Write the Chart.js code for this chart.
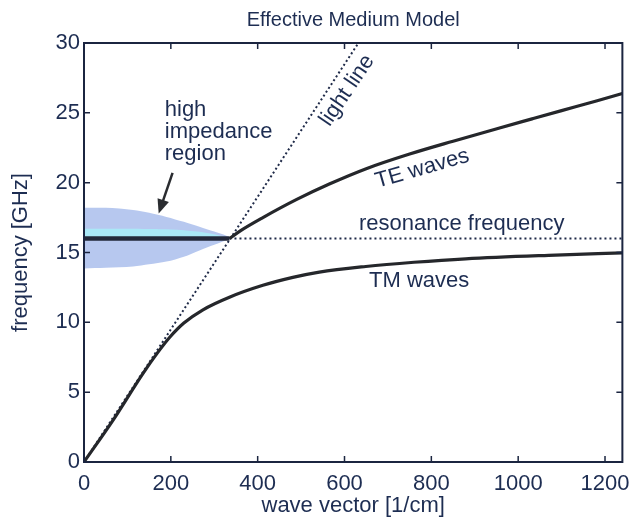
<!DOCTYPE html>
<html>
<head>
<meta charset="utf-8">
<script src="https://cdn.jsdelivr.net/npm/chart.js@4.4.1/dist/chart.umd.min.js"></script>
<style>
  html, body { margin: 0; padding: 0; background: #fff; }
  #wrap { width: 639px; height: 520px; }
</style>
</head>
<body>
<div id="wrap"><canvas id="chart" width="639" height="520"></canvas></div>
<script>
"use strict";
// axis ranges / ticks
const xTickValues = [0, 200, 400, 600, 800, 1000, 1200];
const yTickValues = [0, 5, 10, 15, 20, 25, 30];
const X_MAX = 1240;

// TM waves (lower branch)
const tmK = [0, 67, 136, 170, 198, 230, 274, 335, 412, 481, 542, 649, 760, 879, 1070, 1240];
const tmF = [0, 3.0, 6.35, 7.85, 8.95, 9.95, 10.9, 11.8, 12.65, 13.22, 13.6, 14.0, 14.3, 14.55, 14.8, 14.97];

// TE waves (upper branch)
const teK = [335, 360, 412, 490, 565, 650, 750, 850, 955, 1032, 1100, 1180, 1240];
const teF = [16.0, 16.55, 17.5, 18.8, 19.9, 21.0, 22.05, 22.97, 23.9, 24.57, 25.16, 25.85, 26.38];

// light line
const lightK = [0, 632];
const lightF = [0, 30];

// resonance frequency: solid part and dotted part
const resSolidK = [0, 335];
const resSolidF = [16, 16];
const resDotK = [335, 1240];
const resDotF = [16, 16];

// high impedance band
const bandK  = [0, 50, 113, 150, 190, 230, 266, 300, 328, 337];
const bandHi = [18.2, 18.2, 18.05, 17.85, 17.55, 17.2, 16.85, 16.5, 16.2, 16.0];
const bandLo = [13.85, 13.9, 14.0, 14.15, 14.35, 14.7, 15.15, 15.55, 15.9, 16.0];
const cyanK  = [0, 100, 200, 260, 300, 330];
const cyanF  = [16.7, 16.7, 16.65, 16.5, 16.3, 16.05];

const TEXT = "#1d2d52";
const AXIS = "#1b2540";
const CURVE = "#25272b";
const FONT = '"Liberation Sans", Arial, sans-serif';

const pts = (ks, fs) => ks.map((k, i) => ({ x: k, y: fs[i] }));

const frame = {
  id: "frame",
  afterDatasetsDraw(chart) {
    const { ctx, chartArea: a, scales: { x, y } } = chart;
    ctx.save();
    ctx.strokeStyle = AXIS;
    ctx.lineWidth = 2;
    ctx.strokeRect(a.left, a.top, a.right - a.left, a.bottom - a.top);
    ctx.lineWidth = 1.5;
    ctx.beginPath();
    x.ticks.forEach(t => {
      const px = x.getPixelForValue(t.value);
      ctx.moveTo(px, a.bottom); ctx.lineTo(px, a.bottom - 6);
      ctx.moveTo(px, a.top);    ctx.lineTo(px, a.top + 6);
    });
    y.ticks.forEach(t => {
      const py = y.getPixelForValue(t.value);
      ctx.moveTo(a.left, py);  ctx.lineTo(a.left + 6, py);
      ctx.moveTo(a.right, py); ctx.lineTo(a.right - 6, py);
    });
    ctx.stroke();
    ctx.restore();
  },
  afterDraw(chart) {
    const { ctx, chartArea: a, scales: { x, y } } = chart;
    const X = v => x.getPixelForValue(v), Y = v => y.getPixelForValue(v);
    ctx.save();
    ctx.fillStyle = TEXT;
    // title
    ctx.font = "20px " + FONT;
    ctx.textAlign = "center";
    ctx.textBaseline = "alphabetic";
    ctx.fillText("Effective Medium Model", (a.left + a.right) / 2, 26);

    ctx.font = "22px " + FONT;
    // high impedance region
    ctx.textAlign = "left";
    ctx.fillText("high", X(186), Y(24.77));
    ctx.fillText("impedance", X(186), Y(23.2));
    ctx.fillText("region", X(186), Y(21.6));

    // arrow
    const x1 = X(204), y1 = Y(20.7), x2 = X(172), y2 = Y(17.8);
    const ang = Math.atan2(y2 - y1, x2 - x1);
    ctx.strokeStyle = "#2a2c30";
    ctx.fillStyle = "#2a2c30";
    ctx.lineWidth = 2.5;
    ctx.beginPath();
    ctx.moveTo(x1, y1);
    ctx.lineTo(x2 - 8 * Math.cos(ang), y2 - 8 * Math.sin(ang));
    ctx.stroke();
    ctx.beginPath();
    ctx.moveTo(x2, y2);
    ctx.lineTo(x2 - 14 * Math.cos(ang) + 6 * Math.sin(ang), y2 - 14 * Math.sin(ang) - 6 * Math.cos(ang));
    ctx.lineTo(x2 - 14 * Math.cos(ang) - 6 * Math.sin(ang), y2 - 14 * Math.sin(ang) + 6 * Math.cos(ang));
    ctx.closePath();
    ctx.fill();

    ctx.fillStyle = TEXT;
    ctx.textAlign = "center";
    ctx.textBaseline = "middle";
    // light line
    ctx.save();
    ctx.translate(X(606), Y(26.6));
    ctx.rotate(-56 * Math.PI / 180);
    ctx.fillText("light line", 0, 0);
    ctx.restore();
    // TE waves
    ctx.save();
    ctx.translate(X(779), Y(21.0));
    ctx.rotate(-16 * Math.PI / 180);
    ctx.fillText("TE waves", 0, 0);
    ctx.restore();

    ctx.textBaseline = "alphabetic";
    ctx.fillText("resonance frequency", X(870), Y(16.6));
    ctx.fillText("TM waves", X(772), Y(12.5));
    ctx.restore();
  }
};

new Chart(document.getElementById("chart"), {
  type: "scatter",
  data: {
    datasets: [
      { data: pts(tmK, tmF), showLine: true, borderColor: CURVE, borderWidth: 3.2, pointRadius: 0, cubicInterpolationMode: "monotone" },
      { data: pts(teK, teF), showLine: true, borderColor: CURVE, borderWidth: 3.2, pointRadius: 0, cubicInterpolationMode: "monotone" },
      { data: pts(resSolidK, resSolidF), showLine: true, borderColor: "#23283a", borderWidth: 4.5, pointRadius: 0 },
      { data: pts(resDotK, resDotF), showLine: true, borderColor: "#1f2a48", borderWidth: 2, borderDash: [2, 3], pointRadius: 0 },
      { data: pts(lightK, lightF), showLine: true, borderColor: "#1f2a48", borderWidth: 2, borderDash: [2, 2.6], pointRadius: 0 },
      { data: pts(cyanK, cyanF), showLine: true, borderWidth: 0, borderColor: "rgba(0,0,0,0)", pointRadius: 0,
        fill: { value: 16 }, backgroundColor: "rgba(170,236,248,0.9)", tension: 0.3 },
      { data: pts(bandK, bandHi), showLine: true, borderWidth: 0, borderColor: "rgba(0,0,0,0)", pointRadius: 0,
        fill: "+1", backgroundColor: "rgba(170,190,236,0.85)", tension: 0.3 },
      { data: pts(bandK, bandLo), showLine: true, borderWidth: 0, borderColor: "rgba(0,0,0,0)", pointRadius: 0, tension: 0.3 }
    ]
  },
  options: {
    responsive: false,
    animation: false,
    layout: { padding: { top: 43, right: 16, left: 0, bottom: 0 } },
    plugins: {
      legend: { display: false },
      tooltip: { enabled: false },
      title: { display: false }
    },
    scales: {
      x: {
        type: "linear", min: 0, max: X_MAX,
        afterBuildTicks: s => { s.ticks = xTickValues.map(v => ({ value: v })); },
        afterFit: s => { s.height = 58; },
        grid: { display: false, drawTicks: false },
        border: { display: false },
        ticks: { color: TEXT, padding: 9, maxRotation: 0, font: { family: FONT, size: 22 }, callback: v => String(v) },
        title: { display: true, text: "wave vector [1/cm]", color: TEXT, padding: { top: 0, bottom: 1 }, font: { family: FONT, size: 22 } }
      },
      y: {
        type: "linear", min: 0, max: 30,
        afterBuildTicks: s => { s.ticks = yTickValues.map(v => ({ value: v })); },
        afterFit: s => { s.width = 84; },
        grid: { display: false, drawTicks: false },
        border: { display: false },
        ticks: { color: TEXT, padding: 4, font: { family: FONT, size: 22 }, callback: v => String(v) },
        title: { display: true, text: "frequency [GHz]", color: TEXT, padding: { top: 8, bottom: 0 }, font: { family: FONT, size: 22 } }
      }
    }
  },
  plugins: [frame]
});
</script>
</body>
</html>
